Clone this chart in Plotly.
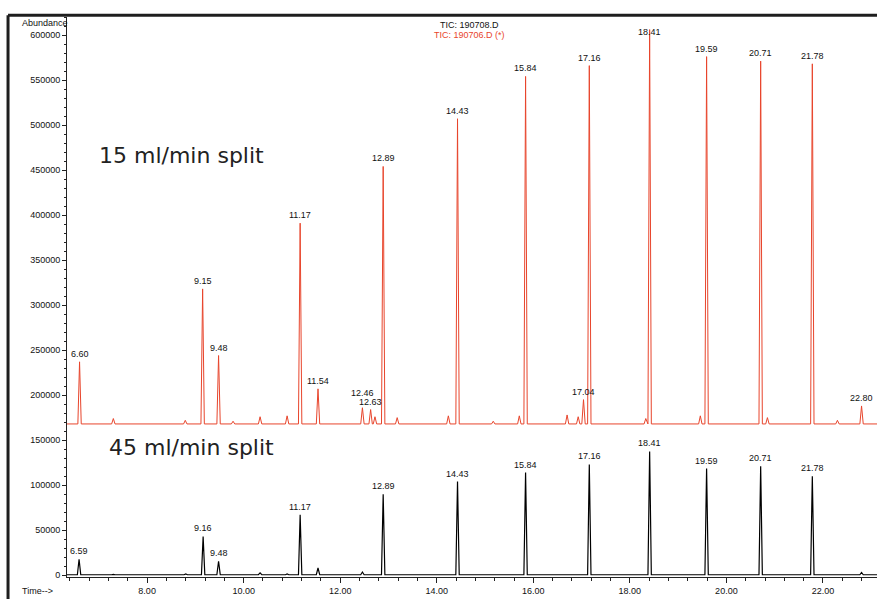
import plotly.graph_objects as go

# ---------------- data ----------------
# red trace (15 ml/min split, TIC: 190706.D (*)) -- labelled peaks
red_times = [6.60, 9.15, 9.48, 11.17, 11.54, 12.46, 12.63, 12.89, 14.43, 15.84,
             17.04, 17.16, 18.41, 19.59, 20.71, 21.78, 22.80]
red_heights = [237000, 318000, 244000, 391000, 207000, 186000, 184000, 454000, 507000,
               554000, 195000, 566000, 606000, 576000, 571000, 568000, 188000]
red_labels = ["6.60", "9.15", "9.48", "11.17", "11.54", "12.46", "12.63", "12.89", "14.43",
              "15.84", "17.04", "17.16", "18.41", "19.59", "20.71", "21.78", "22.80"]
# red trace minor (unlabelled) peaks
red_minor_times = [7.30, 8.79, 9.78, 10.34, 10.90, 12.72, 13.18, 14.24, 15.17, 15.71,
                   16.70, 16.93, 18.33, 19.46, 20.85, 22.30]
red_minor_heights = [174000, 172000, 171000, 176000, 177000, 176000, 175000, 177000,
                     171000, 177000, 178000, 176000, 174000, 177000, 175000, 172000]
red_baseline = 168000

# black trace (45 ml/min split, TIC: 190708.D) -- labelled peaks
black_times = [6.59, 9.16, 9.48, 11.17, 12.89, 14.43, 15.84, 17.16, 18.41, 19.59, 20.71, 21.78]
black_heights = [17700, 43000, 15500, 67000, 90000, 104000, 114000, 123000, 137500,
                 118500, 121000, 110000]
black_labels = ["6.59", "9.16", "9.48", "11.17", "12.89", "14.43", "15.84", "17.16",
                "18.41", "19.59", "20.71", "21.78"]
black_minor_times = [7.30, 8.80, 10.34, 10.90, 11.54, 12.46, 22.80]
black_minor_heights = [1000, 1500, 2500, 1500, 8000, 3500, 3000]
black_baseline = 500

x_start, x_end = 6.34, 23.12
RED = "#e8452c"


def chromatogram(times, heights, base, half_width):
    pts = sorted(zip(times, heights))
    xs, ys = [x_start], [base]
    for t, h in pts:
        xs += [t - half_width, t, t + half_width]
        ys += [base, h, base]
    xs.append(x_end)
    ys.append(base)
    return xs, ys


rx, ry = chromatogram(red_times + red_minor_times, red_heights + red_minor_heights,
                      red_baseline, 0.035)
bx, by = chromatogram(black_times + black_minor_times, black_heights + black_minor_heights,
                      black_baseline, 0.035)

fig = go.Figure()
fig.add_trace(go.Scatter(x=bx, y=by, mode="lines", line=dict(color="#000000", width=1.2),
                         showlegend=False, hoverinfo="skip"))
fig.add_trace(go.Scatter(x=rx, y=ry, mode="lines", line=dict(color=RED, width=1),
                         showlegend=False, hoverinfo="skip"))

LABEL_FONT = dict(family="Liberation Sans, Arial, sans-serif", size=9, color="#111111")
annotations = []
for t, h, lab in zip(red_times + black_times, red_heights + black_heights,
                     red_labels + black_labels):
    ys = 1
    if lab == "12.46" and h < 300000:
        ys = 8
    annotations.append(dict(x=t, y=min(h, 594000), text=lab, showarrow=False,
                            xanchor="center", yanchor="bottom", yshift=ys, font=LABEL_FONT))

BIG_FONT = dict(family="DejaVu Sans", size=22, color="#222222")
annotations += [
    dict(x=6.96, y=466700, text="15 ml/min split", showarrow=False, xanchor="left",
         yanchor="middle", font=BIG_FONT),
    dict(x=7.17, y=141900, text="45 ml/min split", showarrow=False, xanchor="left",
         yanchor="middle", font=BIG_FONT),
    dict(xref="paper", yref="paper", x=0.4975, y=0.986, text="TIC: 190708.D",
         showarrow=False, xanchor="center", yanchor="middle", font=LABEL_FONT),
    dict(xref="paper", yref="paper", x=0.4975, y=0.967, text="TIC: 190706.D (*)",
         showarrow=False, xanchor="center", yanchor="middle",
         font=dict(family="Liberation Sans, Arial, sans-serif", size=9, color=RED)),
    dict(xref="paper", yref="paper", x=-0.058, y=1.0, text="Abundance", showarrow=False,
         xanchor="left", yanchor="middle", yshift=-6, font=LABEL_FONT),
    dict(xref="paper", yref="paper", x=-0.058, y=0, text="Time-->", showarrow=False,
         xanchor="left", yanchor="top", yshift=-7, font=LABEL_FONT),
]

fig.update_layout(
    width=877, height=599,
    margin=dict(l=67, r=0, t=17, b=22),
    paper_bgcolor="white", plot_bgcolor="white",
    annotations=annotations,
    shapes=[
        dict(type="line", xref="paper", yref="paper", x0=-0.0728, x1=1.01, y0=1.003, y1=1.003,
             line=dict(color="#1e1e1e", width=3)),
        dict(type="line", xref="paper", yref="paper", x0=-0.0728, x1=-0.0728, y0=1.003, y1=-0.05,
             line=dict(color="#1e1e1e", width=3)),
    ],
    xaxis=dict(range=[x_start, x_end], showgrid=False, zeroline=False,
               showline=True, linecolor="#222222", linewidth=1,
               ticks="outside", ticklen=5, tickcolor="#222222",
               tick0=0, dtick=2, tickformat=".2f",
               tickfont=dict(family="Liberation Sans, Arial, sans-serif", size=9, color="#111111"),
               minor=dict(dtick=0.4, tick0=0, ticks="outside", ticklen=3, tickcolor="#222222",
                          showgrid=False)),
    yaxis=dict(range=[-2000, 620000], showgrid=False, zeroline=False,
               showline=True, linecolor="#222222", linewidth=1,
               ticks="outside", ticklen=4, tickcolor="#222222",
               tick0=0, dtick=50000, tickformat="d",
               tickfont=dict(family="Liberation Sans, Arial, sans-serif", size=9, color="#111111"),
               minor=dict(dtick=10000, tick0=0, ticks="outside", ticklen=2, tickcolor="#222222",
                          showgrid=False)),
)

fig.write_html("out.html", config={"displayModeBar": False},
               post_script="document.body.style.margin='0';document.body.style.overflow='hidden';")
